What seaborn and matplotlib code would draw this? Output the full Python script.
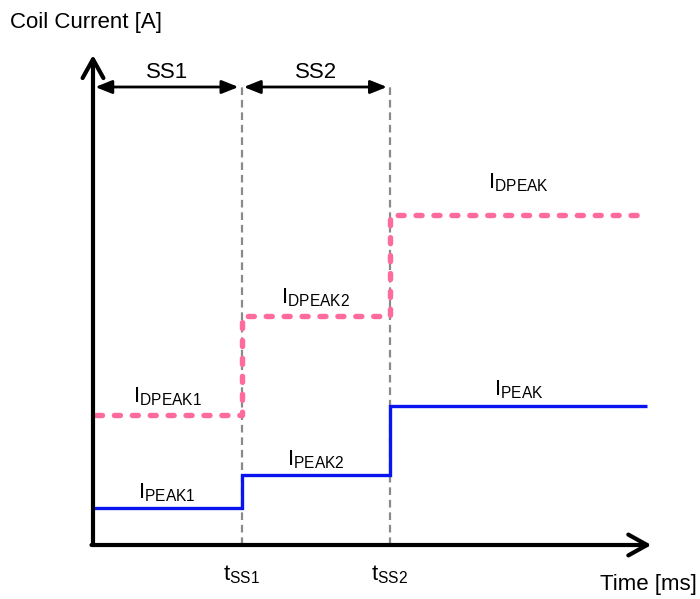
import matplotlib
matplotlib.use("Agg")
import matplotlib.pyplot as plt
import seaborn as sns
import pandas as pd
from matplotlib.patches import ArrowStyle

# ---- data (time in units of t_SS1, current in arbitrary units) ----
t_steps = [0.0, 1.0, 2.0, 3.73]          # 0, t_SS1, t_SS2, end of window
peak_levels = [0.37, 0.70, 1.39, 1.39]   # I_PEAK1, I_PEAK2, I_PEAK
dpeak_start = 0.02
dpeak_levels = [1.30, 2.29, 3.30, 3.30]  # I_DPEAK1, I_DPEAK2, I_DPEAK
peak_labels = ["PEAK1", "PEAK2", "PEAK"]
dpeak_labels = ["DPEAK1", "DPEAK2", "DPEAK"]
t_marks = [1.0, 2.0]
t_mark_labels = ["SS1", "SS2"]
phase_labels = ["SS1", "SS2"]

sns.set_theme(style="white")
plt.rcParams["font.family"] = ["Liberation Sans", "DejaVu Sans"]
plt.rcParams["mathtext.fontset"] = "custom"
plt.rcParams["mathtext.rm"] = "Liberation Sans"
plt.rcParams["mathtext.it"] = "Liberation Sans"
plt.rcParams["lines.scale_dashes"] = False
plt.rcParams["text.color"] = "black"

W, H = 700, 599
fig = plt.figure(figsize=(W / 100, H / 100), dpi=100)
ax = fig.add_axes([0, 0, 1, 1])
ax.set_axis_off()
PX_X, X0 = 148.5, 93     # px per time unit, origin pixel
PX_Y, Y0 = 100.0, 545
ax.set_xlim(-X0 / PX_X, (W - X0) / PX_X)
ax.set_ylim(-(H - Y0) / PX_Y, Y0 / PX_Y)

FS = 16
BLUE = "#0a14f0"
PINK = "#ff6b9d"
GRAY = "#8a8a8a"

# gray dashed markers
top_ss = 4.58
for tm in t_marks:
    ax.plot([tm, tm], [0, top_ss + 0.03], color=GRAY, lw=1.6,
            linestyle=(0, (5.5, 3.5)), zorder=1)

df_peak = pd.DataFrame({"t": t_steps, "I": peak_levels})
df_dpeak = pd.DataFrame({"t": [dpeak_start] + t_steps[1:], "I": dpeak_levels})

sns.lineplot(data=df_peak, x="t", y="I", ax=ax, color=BLUE, lw=2.4,
             drawstyle="steps-post", estimator=None, sort=False, zorder=3,
             solid_capstyle="butt", solid_joinstyle="miter")
sns.lineplot(data=df_dpeak, x="t", y="I", ax=ax, color=PINK, lw=3.9,
             drawstyle="steps-post", estimator=None, sort=False, zorder=3,
             linestyle=(0, (4.3, 8.6)), dash_capstyle="round")
ax.set_xlim(-X0 / PX_X, (W - X0) / PX_X)
ax.set_ylim(-(H - Y0) / PX_Y, Y0 / PX_Y)
ax.set_axis_off()

# axes arrows
axis_style = ArrowStyle("->", head_length=1.35, head_width=0.75)
ax.annotate("", xy=(0, 4.90), xytext=(0, 0),
            arrowprops=dict(arrowstyle=axis_style, mutation_scale=10, lw=3,
                            color="black", shrinkA=0, shrinkB=0), zorder=5)
ax.annotate("", xy=(3.76, 0), xytext=(-0.01, 0),
            arrowprops=dict(arrowstyle=axis_style, mutation_scale=10, lw=3,
                            color="black", shrinkA=0, shrinkB=0), zorder=5)

# SS phase arrows
bounds = [0.0] + t_marks
ss_style = ArrowStyle("<|-|>", head_length=1.0, head_width=0.4)
for i, lab in enumerate(phase_labels):
    a, b = bounds[i], bounds[i + 1]
    ax.annotate("", xy=(b - 0.02, top_ss), xytext=(a + 0.015, top_ss),
                arrowprops=dict(arrowstyle=ss_style, mutation_scale=10, lw=2,
                                color="black", shrinkA=0, shrinkB=0))
    ax.annotate(lab, xy=((a + b) / 2, top_ss), xytext=(0, 9),
                textcoords="offset pixels", ha="center", va="baseline",
                fontsize=FS, color="black")

# level labels
ends = t_steps[1:]
starts = t_steps[:-1]
peak_off = [10, 10, 11]
dpeak_off = [13, 13, 27]
for i in range(3):
    xm = (starts[i] + ends[i]) / 2
    ax.annotate(r"$\mathrm{I}_{\mathrm{%s}}$" % peak_labels[i],
                xy=(xm, peak_levels[i]), xytext=(0, peak_off[i]),
                textcoords="offset pixels", ha="center", va="baseline",
                fontsize=FS, color="black")
    ax.annotate(r"$\mathrm{I}_{\mathrm{%s}}$" % dpeak_labels[i],
                xy=(xm, dpeak_levels[i]), xytext=(0, dpeak_off[i]),
                textcoords="offset pixels", ha="center", va="baseline",
                fontsize=FS, color="black")

for tm, lab in zip(t_marks, t_mark_labels):
    ax.annotate(r"$\mathrm{t}_{\mathrm{%s}}$" % lab, xy=(tm, 0), xytext=(0, -35),
                textcoords="offset pixels", ha="center", va="baseline",
                fontsize=FS, color="black")

fig.text(10 / W, 1 - 28 / H, "Coil Current [A]", ha="left", va="baseline",
         fontsize=FS, color="black")
fig.text(697 / W, 1 - 590 / H, "Time [ms]", ha="right", va="baseline",
         fontsize=FS, color="black")

fig.savefig("out.png", dpi=100, facecolor="white")
